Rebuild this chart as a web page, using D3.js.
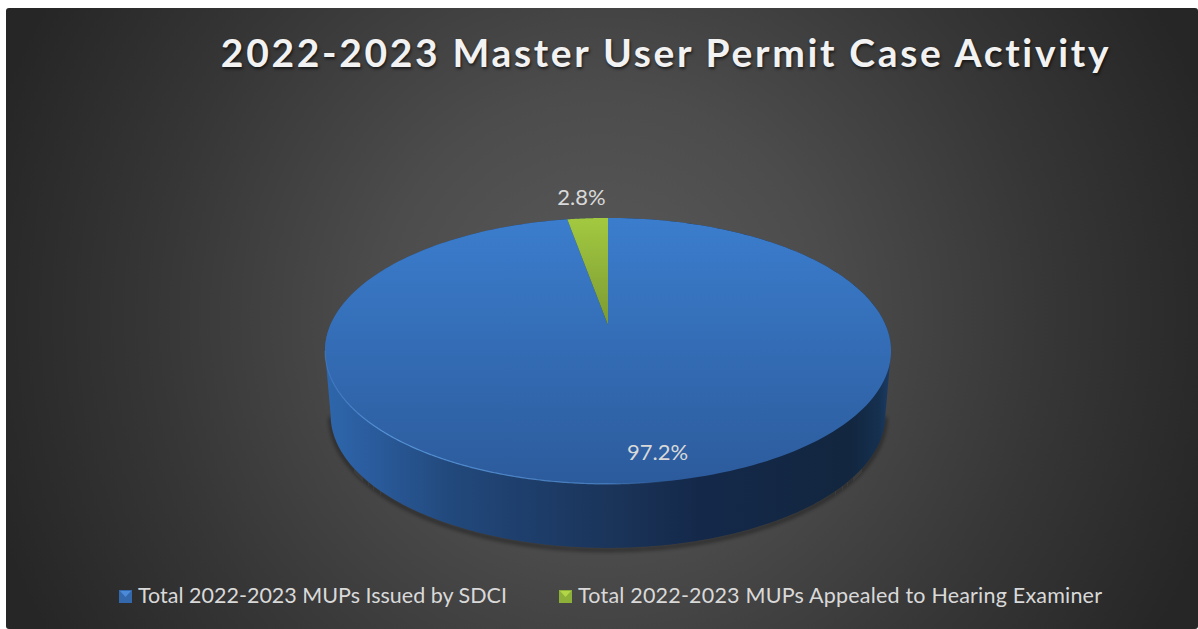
<!DOCTYPE html>
<html><head><meta charset="utf-8">
<script src="https://cdn.jsdelivr.net/npm/d3@7/dist/d3.min.js"></script>
<style>html,body{margin:0;padding:0;background:#fff;overflow:hidden}svg{display:block}</style>
</head><body><svg id="c" width="1198" height="629"></svg>
<script>
const titleText = "2022-2023 Master User Permit Case Activity";
const categories = ["Total 2022-2023 MUPs Issued by SDCI", "Total 2022-2023 MUPs Appealed to Hearing Examiner"];
const values = [97.2, 2.8];
const valueLabels = ["97.2%", "2.8%"];

const svg = d3.select("#c");
const defs = svg.append("defs");
function linear(id, stops, x1, y1, x2, y2) {
  const g = defs.append("linearGradient").attr("id", id).attr("gradientUnits", "userSpaceOnUse")
    .attr("x1", x1).attr("y1", y1).attr("x2", x2).attr("y2", y2);
  stops.forEach(s => g.append("stop").attr("offset", s[0]).attr("stop-color", s[1]).attr("stop-opacity", s[2] === undefined ? 1 : s[2]));
}
const bg = defs.append("radialGradient").attr("id", "bg").attr("gradientUnits", "userSpaceOnUse")
  .attr("cx", 602).attr("cy", 318).attr("r", 640);
[[0, "#5a5a5a"], [0.35, "#4c4c4c"], [0.7, "#363636"], [1, "#262626"]].forEach(s => bg.append("stop").attr("offset", s[0]).attr("stop-color", s[1]));
linear("topBlue", [[0, "#3b7dcd"], [1, "#2c5b9c"]], 0, 218, 0, 484);
linear("topGreen", [[0, "#a3c940"], [1, "#7b9a33"]], 0, 218, 0, 325);
linear("side", [[0, "#2e66ab"], [0.06, "#2b5ea1"], [0.217, "#22497c"], [0.34, "#1e3f6d"], [0.52, "#1a3358"], [0.66, "#14294a"], [0.93, "#12263f"], [0.98, "#15304f"], [1, "#1c3c66"]], 328, 0, 890, 0);
linear("rim", [[0, "#5c9ae0", 0.25], [0.1, "#5c9ae0", 0.85], [0.5, "#5c9ae0", 0.6], [0.62, "#3c70b0", 0]], 325, 0, 890, 0);
linear("swB", [[0, "#3468ac"], [1, "#234a80"]], 0, 590, 0, 603);
linear("swG", [[0, "#8cb038"], [1, "#66802b"]], 0, 590, 0, 603);
defs.append("filter").attr("id", "soft").attr("x", "-5%").attr("y", "-5%").attr("width", "110%").attr("height", "110%")
  .append("feGaussianBlur").attr("stdDeviation", 2.2);

svg.append("rect").attr("x", 6).attr("y", 8).attr("width", 1192).attr("height", 621).attr("rx", 3).attr("fill", "url(#bg)");

// Perspective disc: maps the unit circle to the drawn ellipse
const cx = 608, cy = 351, k = -0.195, Cx = 277.6, A = 133, B = -26;
const project = (t, sc = 1, dy = 0) => {
  const u = Math.sin(t), v = -Math.cos(t), w = 1 + k * v;
  return [cx + sc * Cx * u / w, cy + dy + (A * v + B) / w];
};
const line = d3.line();
const arcs = d3.pie().sort(null).startAngle(0).endAngle(2 * Math.PI)(values);
const samples = (a0, a1, n = 240) => d3.range(n + 1).map(i => a0 + (a1 - a0) * i / n);

// Side wall: lower half of the bottom rim joined to the widest points of the top rim
const widest = Math.acos(k);
const topRim = samples(-widest, widest).map(t => project(t));
const lowRim = samples(widest, 2 * Math.PI - widest).map(t => project(t, 0.98, 64));
const wall = line(topRim.concat(lowRim)) + "Z";
svg.append("path").attr("d", line(lowRim)).attr("fill", "none").attr("stroke", "#111").attr("stroke-opacity", 0.55)
  .attr("stroke-width", 3).attr("transform", "translate(0,2)").attr("filter", "url(#soft)");
svg.append("path").attr("d", wall).attr("fill", "url(#side)");

const slicePath = a => line([[cx, 325]].concat(samples(a.startAngle, a.endAngle).map(t => project(t)))) + "Z";
const fills = ["url(#topBlue)", "url(#topGreen)"];
svg.selectAll("path.slice").data(arcs).join("path").attr("class", "slice")
  .attr("d", slicePath).attr("fill", (d, i) => fills[i]);
// lighter bevel along the front-left of the blue slice
svg.append("path").attr("d", line(samples(Math.PI * 0.9, 2 * Math.PI - widest).map(t => project(t))))
  .attr("fill", "none").attr("stroke", "url(#rim)").attr("stroke-width", 1.2);

const textFill = "#d9d9d9";
svg.append("text").attr("x", 666).attr("y", 67).attr("text-anchor", "middle")
  .attr("font-family", "Lato").attr("font-weight", 700).attr("font-size", 39).attr("letter-spacing", 2.67)
  .attr("fill", "#f2f2f2").style("text-shadow", "1px 2px 3px rgba(0,0,0,.6)").text(titleText);

svg.append("text").attr("x", 657.5).attr("y", 460).attr("text-anchor", "middle").attr("font-family", "Lato")
  .attr("font-size", 22).attr("fill", textFill).text(valueLabels[0]);
svg.append("text").attr("x", 581.5).attr("y", 205).attr("text-anchor", "middle").attr("font-family", "Lato")
  .attr("font-size", 22).attr("fill", textFill).text(valueLabels[1]);

// Legend
const legendX = [119, 559], sw = ["url(#swB)", "url(#swG)"], swTop = ["#4a8ad8", "#b2d648"], legendSpacing = [0, 0.2];
const lg = svg.selectAll("g.lg").data(categories).join("g").attr("class", "lg")
  .attr("transform", (d, i) => `translate(${legendX[i]},590)`);
lg.append("rect").attr("width", 13).attr("height", 13).attr("fill", (d, i) => sw[i]);
lg.append("path").attr("d", "M1,1H12L6.5,7Z").attr("fill", (d, i) => swTop[i]);
lg.append("text").attr("x", 19).attr("y", 13).attr("font-family", "Lato").attr("font-size", 21.5)
  .attr("letter-spacing", (d, i) => legendSpacing[i]).attr("fill", textFill).text(d => d);
</script></body></html>
